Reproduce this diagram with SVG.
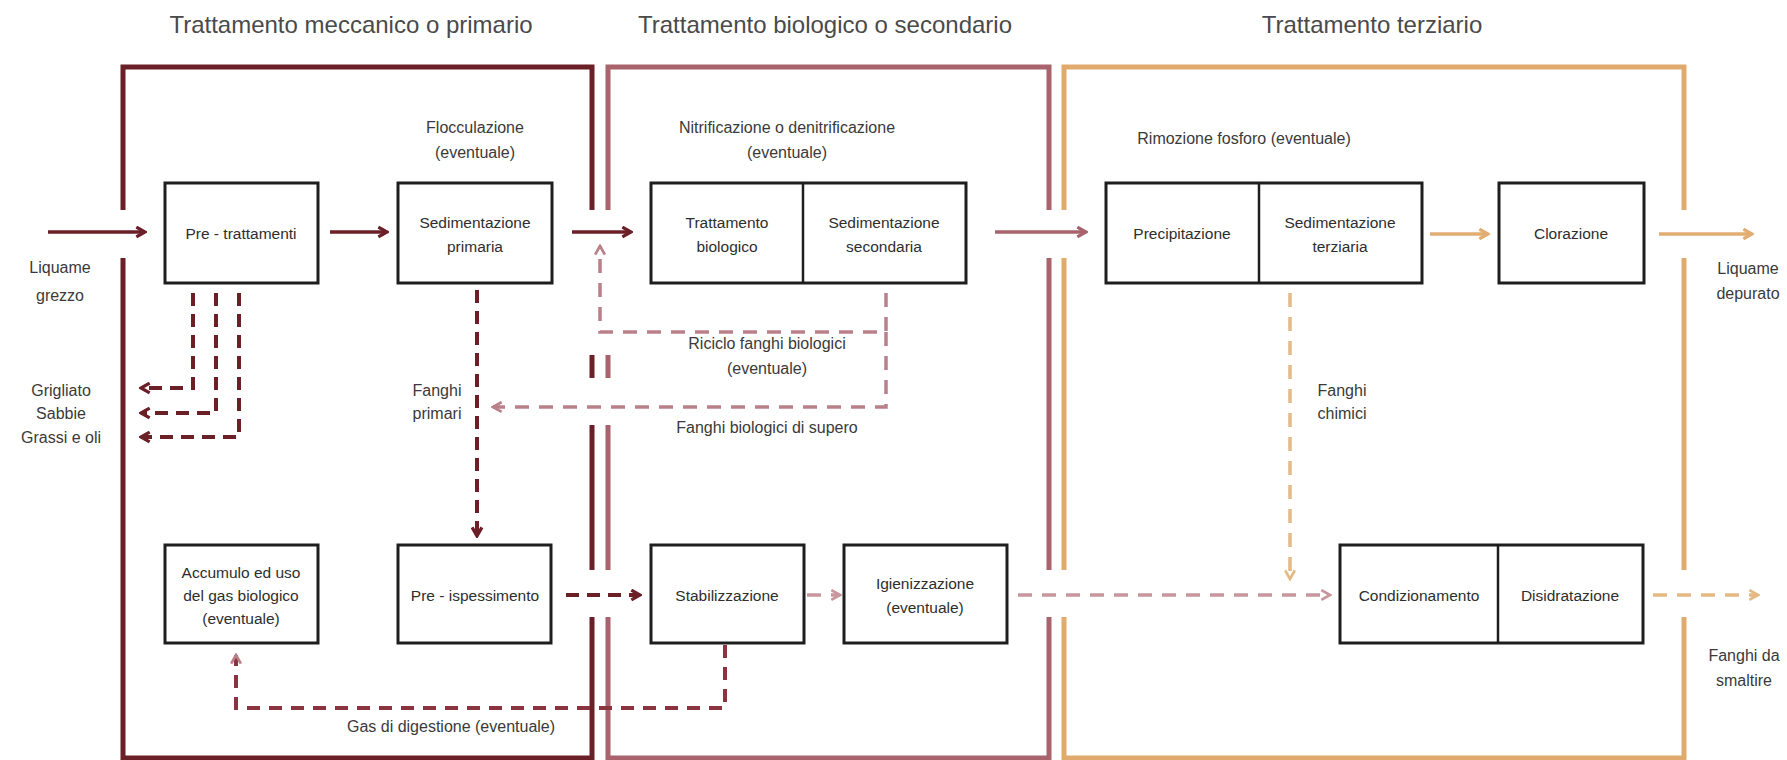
<svg xmlns="http://www.w3.org/2000/svg" width="1787" height="760" viewBox="0 0 1787 760">
<style>
  .title { font-family: "Liberation Sans", Arial, sans-serif; font-size: 24px; fill: #4a4a4a; text-anchor: middle; }
  .lbl { font-family: "Liberation Sans", Arial, sans-serif; font-size: 16px; fill: #3a3a3a; text-anchor: middle; dominant-baseline: central; }
  .bx { font-family: "Liberation Sans", Arial, sans-serif; font-size: 15.5px; fill: #2e2e2e; text-anchor: middle; dominant-baseline: central; }
  .box { fill: #ffffff; stroke: #1e1e1e; stroke-width: 3; }
  .div { stroke: #1e1e1e; stroke-width: 2.5; fill: none; }
  .sec { fill: none; stroke-width: 5; stroke-linejoin: miter; }
  .s1 { stroke: #6b1f27; }
  .s2 { stroke: #a8636c; }
  .s3 { stroke: #e0aa6c; }
  .c { fill: none; stroke-width: 3.5; }
  .maroon { stroke: #6b1f27; }
  .mauve { stroke: #a8636c; }
  .tan { stroke: #e2ad72; }
  .dm { fill: none; stroke: #6b1f27; stroke-width: 4; stroke-dasharray: 13 8; }
  .dp { fill: none; stroke: #b9808a; stroke-width: 3.5; stroke-dasharray: 14 10; }
  .dl { fill: none; stroke: #c8979d; stroke-width: 3.5; stroke-dasharray: 14 10; }
  .dt { fill: none; stroke: #e5b984; stroke-width: 3.5; stroke-dasharray: 14 10; }
  .dg { fill: none; stroke: #8a3440; stroke-width: 4; stroke-dasharray: 13 9; }
</style>
<defs>
  <marker id="ahM" viewBox="0 0 12 12" refX="10" refY="6" markerWidth="13" markerHeight="13" markerUnits="userSpaceOnUse" orient="auto"><path d="M2,1.5 L10,6 L2,10.5" fill="none" stroke="#6b1f27" stroke-width="3"/></marker>
  <marker id="ahV" viewBox="0 0 12 12" refX="10" refY="6" markerWidth="13" markerHeight="13" markerUnits="userSpaceOnUse" orient="auto"><path d="M2,1.5 L10,6 L2,10.5" fill="none" stroke="#a8636c" stroke-width="3"/></marker>
  <marker id="ahT" viewBox="0 0 12 12" refX="10" refY="6" markerWidth="13" markerHeight="13" markerUnits="userSpaceOnUse" orient="auto"><path d="M2,1.5 L10,6 L2,10.5" fill="none" stroke="#e2ad72" stroke-width="3"/></marker>
  <marker id="ahP" viewBox="0 0 12 12" refX="10" refY="6" markerWidth="13" markerHeight="13" markerUnits="userSpaceOnUse" orient="auto"><path d="M2,1.5 L10,6 L2,10.5" fill="none" stroke="#b9808a" stroke-width="2.5"/></marker>
  <marker id="ahL" viewBox="0 0 12 12" refX="10" refY="6" markerWidth="13" markerHeight="13" markerUnits="userSpaceOnUse" orient="auto"><path d="M2,1.5 L10,6 L2,10.5" fill="none" stroke="#c8979d" stroke-width="2.5"/></marker>
  <marker id="ahD" viewBox="0 0 12 12" refX="10" refY="6" markerWidth="13" markerHeight="13" markerUnits="userSpaceOnUse" orient="auto"><path d="M2,1.5 L10,6 L2,10.5" fill="none" stroke="#e5b984" stroke-width="2.5"/></marker>
</defs>
<rect width="1787" height="760" fill="#ffffff"/>

<g id="section-primario">
  <text class="title" x="351" y="33">Trattamento meccanico o primario</text>
  <path class="sec s1" d="M123,210 V67 H592 V210 M123,258 V758 H592 V617 M592,570 V425 M592,378 V355"/>
</g>
<g id="section-secondario">
  <text class="title" x="825" y="33">Trattamento biologico o secondario</text>
  <path class="sec s2" d="M608,210 V67 H1049 V210 M608,355 V378 M608,425 V570 M608,617 V758 H1049 V617 M1049,570 V258"/>
</g>
<g id="section-terziario">
  <text class="title" x="1372" y="33">Trattamento terziario</text>
  <path class="sec s3" d="M1064,210 V67 H1684 V210 M1064,258 V570 M1064,617 V758 H1684 V617 M1684,570 V258"/>
</g>

<g id="connectors">
  <path class="c maroon" d="M48,232 H145" marker-end="url(#ahM)"/>
  <path class="c maroon" d="M330,232 H387" marker-end="url(#ahM)"/>
  <path class="c maroon" d="M572,232 H631" marker-end="url(#ahM)"/>
  <path class="c mauve" d="M995,232 H1086" marker-end="url(#ahV)"/>
  <path class="c tan" d="M1430,234 H1488" marker-end="url(#ahT)"/>
  <path class="c tan" d="M1659,234 H1752" marker-end="url(#ahT)"/>
  <path class="dm" d="M193,293 V388 H141" marker-end="url(#ahM)"/>
  <path class="dm" d="M216,293 V413 H141" marker-end="url(#ahM)"/>
  <path class="dm" d="M239,293 V437 H141" marker-end="url(#ahM)"/>
  <path class="dm" d="M477,290 V536" marker-end="url(#ahM)"/>
  <path class="dp" d="M886,293 V332 H600 V246" marker-end="url(#ahP)"/>
  <path class="dp" d="M886,332 V407 H493" marker-end="url(#ahP)"/>
  <path class="dm" d="M566,595 H640" marker-end="url(#ahM)"/>
  <path class="dl" d="M807,595 H840" stroke-dasharray="6 4" marker-end="url(#ahL)"/>
  <path class="dl" d="M1018,595 H1330" marker-end="url(#ahL)"/>
  <path class="dt" d="M1290,293 V579" marker-end="url(#ahD)"/>
  <path class="dt" d="M1653,595 H1758" marker-end="url(#ahD)"/>
  <path class="dg" d="M725,645 V708 H236 V655" marker-end="url(#ahP)"/>
</g>

<g id="node-pretrattamenti">
  <rect class="box" x="165" y="183" width="153" height="100"/>
  <text class="bx" x="241" y="233">Pre - trattamenti</text>
</g>
<g id="node-sedimentazione-primaria">
  <rect class="box" x="398" y="183" width="154" height="100"/>
  <text class="bx" x="475" y="222">Sedimentazione</text>
  <text class="bx" x="475" y="246">primaria</text>
</g>
<g id="node-trattamento-biologico">
  <rect class="box" x="651" y="183" width="315" height="100"/>
  <line class="div" x1="803" y1="183" x2="803" y2="283"/>
  <text class="bx" x="727" y="222">Trattamento</text>
  <text class="bx" x="727" y="246">biologico</text>
  <text class="bx" x="884" y="222">Sedimentazione</text>
  <text class="bx" x="884" y="246">secondaria</text>
</g>
<g id="node-precipitazione">
  <rect class="box" x="1106" y="183" width="316" height="100"/>
  <line class="div" x1="1259" y1="183" x2="1259" y2="283"/>
  <text class="bx" x="1182" y="233">Precipitazione</text>
  <text class="bx" x="1340" y="222">Sedimentazione</text>
  <text class="bx" x="1340" y="246">terziaria</text>
</g>
<g id="node-clorazione">
  <rect class="box" x="1499" y="183" width="145" height="100"/>
  <text class="bx" x="1571" y="233">Clorazione</text>
</g>
<g id="node-accumulo">
  <rect class="box" x="165" y="545" width="153" height="98"/>
  <text class="bx" x="241" y="572">Accumulo ed uso</text>
  <text class="bx" x="241" y="595">del gas biologico</text>
  <text class="bx" x="241" y="618">(eventuale)</text>
</g>
<g id="node-preispessimento">
  <rect class="box" x="398" y="545" width="153" height="98"/>
  <text class="bx" x="475" y="595">Pre - ispessimento</text>
</g>
<g id="node-stabilizzazione">
  <rect class="box" x="651" y="545" width="153" height="98"/>
  <text class="bx" x="727" y="595">Stabilizzazione</text>
</g>
<g id="node-igienizzazione">
  <rect class="box" x="844" y="545" width="163" height="98"/>
  <text class="bx" x="925" y="583">Igienizzazione</text>
  <text class="bx" x="925" y="607">(eventuale)</text>
</g>
<g id="node-condizionamento">
  <rect class="box" x="1340" y="545" width="303" height="98"/>
  <line class="div" x1="1498" y1="545" x2="1498" y2="643"/>
  <text class="bx" x="1419" y="595">Condizionamento</text>
  <text class="bx" x="1570" y="595">Disidratazione</text>
</g>

<g id="labels">
  <text class="lbl" x="475" y="127">Flocculazione</text>
  <text class="lbl" x="475" y="152">(eventuale)</text>
  <text class="lbl" x="787" y="127">Nitrificazione o denitrificazione</text>
  <text class="lbl" x="787" y="152">(eventuale)</text>
  <text class="lbl" x="1244" y="138">Rimozione fosforo (eventuale)</text>
  <text class="lbl" x="60" y="267">Liquame</text>
  <text class="lbl" x="60" y="295">grezzo</text>
  <text class="lbl" x="61" y="390">Grigliato</text>
  <text class="lbl" x="61" y="413">Sabbie</text>
  <text class="lbl" x="61" y="437">Grassi e oli</text>
  <text class="lbl" x="437" y="390">Fanghi</text>
  <text class="lbl" x="437" y="413">primari</text>
  <text class="lbl" x="767" y="343">Riciclo fanghi biologici</text>
  <text class="lbl" x="767" y="368">(eventuale)</text>
  <text class="lbl" x="767" y="427">Fanghi biologici di supero</text>
  <text class="lbl" x="1342" y="390">Fanghi</text>
  <text class="lbl" x="1342" y="413">chimici</text>
  <text class="lbl" x="1748" y="268">Liquame</text>
  <text class="lbl" x="1748" y="293">depurato</text>
  <text class="lbl" x="1744" y="655">Fanghi da</text>
  <text class="lbl" x="1744" y="680">smaltire</text>
  <text class="lbl" x="451" y="726">Gas di digestione (eventuale)</text>
</g>
</svg>
